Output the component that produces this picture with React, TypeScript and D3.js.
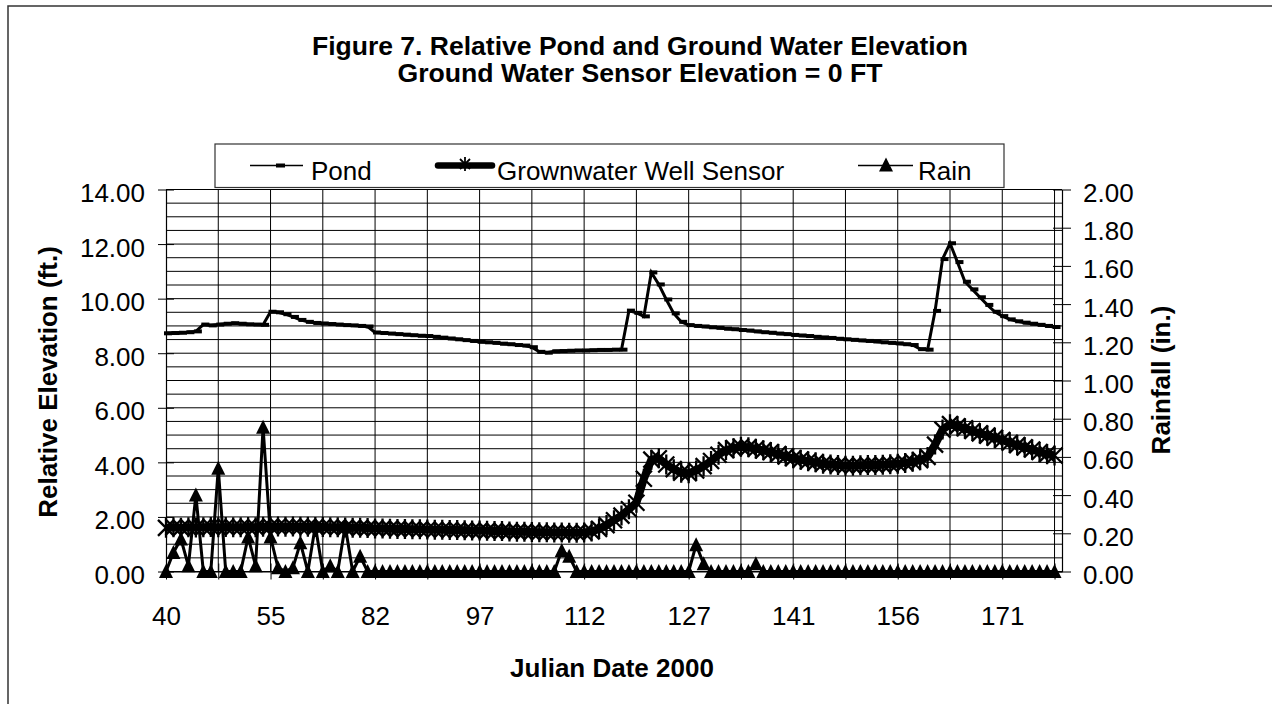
import { useRef, useEffect } from 'react';
import * as d3 from 'd3';

const W = 1272;
const H = 704;

// one reading per category, labelled every 14 readings
const dayLabels = ['40', '55', '82', '97', '112', '127', '141', '156', '171'];

const pond = [
  8.73, 8.74, 8.75, 8.77, 8.8, 9.05, 9.02, 9.05, 9.08, 9.1,
  9.08, 9.06, 9.05, 9.04, 9.52, 9.5, 9.43, 9.33, 9.22, 9.15,
  9.11, 9.09, 9.07, 9.05, 9.03, 9.02, 9.0, 8.98, 8.76, 8.74,
  8.72, 8.7, 8.68, 8.66, 8.64, 8.63, 8.6, 8.57, 8.54, 8.51,
  8.48, 8.45, 8.42, 8.4, 8.38, 8.35, 8.33, 8.3, 8.28, 8.22,
  8.05, 8.02, 8.07, 8.08, 8.09, 8.1, 8.1, 8.11, 8.12, 8.12,
  8.13, 8.13, 9.56, 9.48, 9.35, 10.96, 10.52, 9.97, 9.46, 9.15,
  9.03, 9.0, 8.98, 8.95, 8.93, 8.9, 8.88, 8.85, 8.83, 8.8,
  8.77, 8.75, 8.72, 8.7, 8.67, 8.65, 8.63, 8.6, 8.58, 8.56,
  8.53, 8.51, 8.49, 8.47, 8.45, 8.43, 8.4, 8.38, 8.36, 8.33,
  8.3, 8.15, 8.13, 9.55, 11.45, 12.03, 11.34, 10.62, 10.34, 10.05,
  9.77, 9.52, 9.36, 9.24, 9.17, 9.12, 9.08, 9.04, 9.0, 8.96,
];

const wellSensor = [
  1.6, 1.62, 1.6, 1.62, 1.61, 1.62, 1.63, 1.62, 1.63, 1.62,
  1.62, 1.63, 1.62, 1.64, 1.65, 1.65, 1.64, 1.65, 1.64, 1.64,
  1.63, 1.63, 1.62, 1.62, 1.61, 1.6, 1.6, 1.59, 1.58, 1.58,
  1.57, 1.56, 1.56, 1.55, 1.55, 1.54, 1.53, 1.53, 1.52, 1.52,
  1.51, 1.5, 1.5, 1.49, 1.48, 1.48, 1.47, 1.46, 1.46, 1.45,
  1.44, 1.44, 1.43, 1.43, 1.42, 1.42, 1.43, 1.47, 1.56, 1.7,
  1.88, 2.05, 2.28, 2.52, 3.4, 4.1, 4.15, 3.92, 3.75, 3.62,
  3.6, 3.7, 3.86, 4.05, 4.28, 4.45, 4.52, 4.57, 4.55, 4.5,
  4.44, 4.38, 4.3, 4.22, 4.15, 4.1, 4.04, 4.0, 3.95, 3.92,
  3.9, 3.88, 3.88, 3.89, 3.9, 3.9, 3.91, 3.93, 3.95, 3.98,
  4.02, 4.08, 4.2, 4.65, 5.2, 5.4, 5.32, 5.25, 5.15, 5.06,
  4.98, 4.9, 4.82, 4.72, 4.63, 4.55, 4.47, 4.38, 4.3, 4.25,
];

const rain = [
  0, 0.1, 0.17, 0.03, 0.4, 0, 0, 0.54, 0, 0,
  0, 0.18, 0.03, 0.755, 0.18, 0.02, 0, 0.02, 0.15, 0,
  0.24, 0, 0.03, 0, 0.24, 0, 0.08, 0, 0, 0,
  0, 0, 0, 0, 0, 0, 0, 0, 0, 0,
  0, 0, 0, 0, 0, 0, 0, 0, 0, 0,
  0, 0, 0, 0.11, 0.08, 0, 0, 0, 0, 0,
  0, 0, 0, 0, 0, 0, 0, 0, 0, 0,
  0, 0.14, 0.04, 0, 0, 0, 0, 0, 0, 0.04,
  0, 0, 0, 0, 0, 0, 0, 0, 0, 0,
  0, 0, 0, 0, 0, 0, 0, 0, 0, 0,
  0, 0, 0, 0, 0, 0, 0, 0, 0, 0,
  0, 0, 0, 0, 0, 0, 0, 0, 0, 0,
];

const FONT = '"Liberation Sans", Arial, sans-serif';

export default function App() {
  const svgRef = useRef<SVGSVGElement | null>(null);

  function renderChart() {
    const svg = d3.select(svgRef.current);
    svg.selectAll('*').remove();
    svg.attr('width', W).attr('height', H).style('font-family', FONT);

    svg.append('rect').attr('width', W).attr('height', H).attr('fill', '#fff');
    // chart area border (runs off right and bottom)
    svg.append('rect')
      .attr('x', 8).attr('y', 6).attr('width', 1400).attr('height', 900)
      .attr('fill', 'none').attr('stroke', '#333').attr('stroke-width', 1.5);

    const left = 166, right = 1062, top = 189.5, bottom = 571.5;
    const x = d3.scaleLinear().domain([0, 120]).range([left, right]);
    const yL = d3.scaleLinear().domain([0, 14]).range([bottom, top]);
    const yR = d3.scaleLinear().domain([0, 2]).range([bottom, top]);

    // gridlines
    const grid = svg.append('g').attr('stroke', '#000').attr('stroke-width', 1);
    grid.selectAll('line.h')
      .data(d3.range(0, 14.001, 0.5))
      .join('line')
      .attr('class', 'h')
      .attr('x1', left).attr('x2', right)
      .attr('y1', (d) => yL(d)).attr('y2', (d) => yL(d));
    grid.selectAll('line.v')
      .data(d3.range(7, 120, 7))
      .join('line')
      .attr('class', 'v')
      .attr('x1', (d) => x(d)).attr('x2', (d) => x(d))
      .attr('y1', top).attr('y2', bottom);

    // axes
    const fmt = d3.format('.2f');
    const gL = svg.append('g').attr('transform', `translate(${left},0)`)
      .call(d3.axisLeft(yL).tickValues(d3.range(0, 14.001, 2)).tickFormat(fmt).tickSize(8).tickSizeOuter(0).tickPadding(13));
    gL.selectAll('.tick line').attr('x1', 8).attr('x2', -8);

    const gR = svg.append('g').attr('transform', `translate(${right},0)`)
      .call(d3.axisRight(yR).tickValues(d3.range(0, 2.001, 0.2)).tickFormat(fmt).tickSize(8).tickSizeOuter(0).tickPadding(13));
    gR.selectAll('.tick line').attr('x1', -9).attr('x2', 9);

    const gB = svg.append('g').attr('transform', `translate(0,${bottom})`)
      .call(d3.axisBottom(x).tickValues(d3.range(0, 120, 7))
        .tickFormat((d) => ((d as number) % 14 === 0 ? dayLabels[(d as number) / 14] : ''))
        .tickSize(8).tickSizeOuter(0));
    gB.selectAll('.tick line').attr('y1', -8).attr('y2', 8);
    gB.selectAll('.tick text').attr('y', 53.5).attr('dy', 0);

    [gL, gR, gB].forEach((g) => {
      g.attr('font-size', 26).attr('font-family', FONT);
      g.selectAll('.domain').attr('stroke', '#000').attr('stroke-width', 1.2);
      g.selectAll('.tick line').attr('stroke', '#000');
      g.selectAll('.tick text').attr('fill', '#000');
    });
    gL.selectAll('.tick text').attr('dy', '0.46em');
    gR.selectAll('.tick text').attr('dy', '0.46em');
    // top edge of plot area
    svg.append('line').attr('x1', left).attr('x2', right).attr('y1', top).attr('y2', top).attr('stroke', '#000');

    // series
    const pondLine = d3.line<number>().x((d, i) => x(i)).y((d) => yL(d));
    const rainLine = d3.line<number>().x((d, i) => x(i)).y((d) => yR(d));

    svg.append('path').datum(pond).attr('d', pondLine)
      .attr('fill', 'none').attr('stroke', '#000').attr('stroke-width', 3);
    svg.append('g').selectAll('rect')
      .data(pond)
      .join('rect')
      .attr('x', (d, i) => x(i) - 2).attr('y', (d) => yL(d) - 2)
      .attr('width', 8).attr('height', 4).attr('fill', '#000');

    svg.append('path').datum(wellSensor).attr('d', pondLine)
      .attr('fill', 'none').attr('stroke', '#000').attr('stroke-width', 8).attr('stroke-linejoin', 'round');
    const star = 'M-8,-8L8,8M-8,8L8,-8M0,-10L0,10';
    svg.append('g').selectAll('path')
      .data(wellSensor)
      .join('path')
      .attr('d', star)
      .attr('transform', (d, i) => `translate(${x(i)},${yL(d)})`)
      .attr('stroke', '#000').attr('stroke-width', 2.3).attr('fill', 'none');

    svg.append('path').datum(rain).attr('d', rainLine)
      .attr('fill', 'none').attr('stroke', '#000').attr('stroke-width', 3);
    const tri = 'M0,-7.5L7,6.5L-7,6.5Z';
    svg.append('g').selectAll('path')
      .data(rain)
      .join('path')
      .attr('d', tri)
      .attr('transform', (d, i) => `translate(${x(i)},${yR(d)})`)
      .attr('fill', '#000');

    // legend
    const lg = svg.append('g');
    lg.append('rect').attr('x', 215).attr('y', 144).attr('width', 789).attr('height', 43.5)
      .attr('fill', '#fff').attr('stroke', '#333').attr('stroke-width', 1.2);
    lg.append('line').attr('x1', 250).attr('x2', 303).attr('y1', 165.5).attr('y2', 165.5)
      .attr('stroke', '#000').attr('stroke-width', 1.5);
    lg.append('rect').attr('x', 276).attr('y', 163.5).attr('width', 9).attr('height', 4).attr('fill', '#000');
    lg.append('line').attr('x1', 438).attr('x2', 492).attr('y1', 165.5).attr('y2', 165.5)
      .attr('stroke', '#000').attr('stroke-width', 6.5).attr('stroke-linecap', 'round');
    lg.append('path').attr('d', 'M-5,-5L5,5M-5,5L5,-5M0,-7L0,7').attr('transform', 'translate(465,164)')
      .attr('stroke', '#000').attr('stroke-width', 1.8);
    lg.append('line').attr('x1', 858).attr('x2', 913).attr('y1', 165.5).attr('y2', 165.5)
      .attr('stroke', '#000').attr('stroke-width', 1.5);
    lg.append('path').attr('d', tri).attr('transform', 'translate(886,165)').attr('fill', '#000');
    const legendText = [['Pond', 311], ['Grownwater Well Sensor', 497], ['Rain', 918]];
    lg.selectAll('text')
      .data(legendText)
      .join('text')
      .attr('x', (d) => d[1]).attr('y', 180)
      .attr('font-size', 26).text((d) => d[0] as string);

    // titles
    svg.append('text').attr('x', 640).attr('y', 55).attr('text-anchor', 'middle')
      .attr('font-size', 25).attr('font-weight', 'bold')
      .attr('textLength', 656).attr('lengthAdjust', 'spacingAndGlyphs')
      .text('Figure 7. Relative Pond and Ground Water Elevation');
    svg.append('text').attr('x', 640).attr('y', 82).attr('text-anchor', 'middle')
      .attr('font-size', 25).attr('font-weight', 'bold')
      .attr('textLength', 485).attr('lengthAdjust', 'spacingAndGlyphs')
      .text('Ground Water Sensor Elevation = 0 FT');

    svg.append('text').attr('x', 612).attr('y', 677).attr('text-anchor', 'middle')
      .attr('font-size', 26).attr('font-weight', 'bold').text('Julian Date 2000');
    svg.append('text').attr('transform', 'translate(57,382) rotate(-90)').attr('text-anchor', 'middle')
      .attr('font-size', 26).attr('font-weight', 'bold').text('Relative Elevation (ft.)');
    svg.append('text').attr('transform', 'translate(1170,380) rotate(-90)').attr('text-anchor', 'middle')
      .attr('font-size', 26).attr('font-weight', 'bold').text('Rainfall (in.)');
  }

  useEffect(() => {
    renderChart();
  }, []);

  return (
    <div style={{ position: 'absolute', left: 0, top: 0 }}>
      <svg ref={svgRef} style={{ display: 'block' }} />
    </div>
  );
}
